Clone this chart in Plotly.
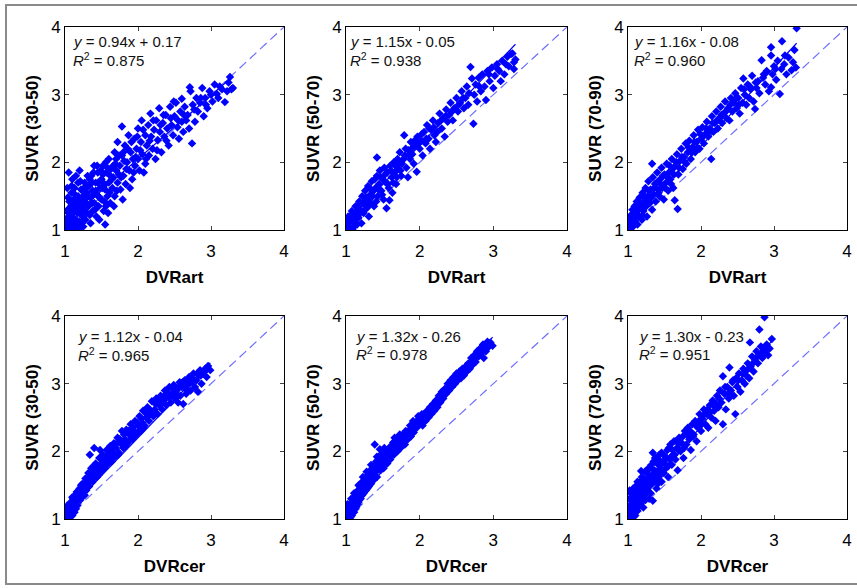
import plotly.graph_objects as go
from plotly.subplots import make_subplots

W, H = 857, 588

# (DVR, SUVR) pairs
art_3050 = [
    (1.00, 1.02), (1.02, 1.10), (1.03, 1.18), (1.05, 1.05), (1.06, 1.25), (1.08, 1.12), (1.08, 1.35),
    (1.10, 1.00), (1.10, 1.20), (1.12, 1.30), (1.12, 1.45), (1.14, 1.08), (1.15, 1.15), (1.15, 1.38),
    (1.17, 1.25), (1.18, 1.50), (1.19, 1.02), (1.20, 1.12), (1.20, 1.32), (1.22, 1.42), (1.22, 1.60),
    (1.24, 1.20), (1.25, 1.05), (1.25, 1.50), (1.26, 1.30), (1.27, 1.70), (1.28, 1.15), (1.29, 1.40),
    (1.30, 1.55), (1.30, 1.25), (1.05, 1.85), (1.10, 1.75), (1.15, 1.80), (1.03, 1.62), (1.20, 1.88),
    (1.32, 1.35), (1.33, 1.65), (1.35, 1.10), (1.35, 1.48), (1.36, 1.80), (1.38, 1.28), (1.38, 1.58),
    (1.40, 1.40), (1.40, 1.95), (1.42, 1.70), (1.43, 1.20), (1.44, 1.52), (1.45, 1.85), (1.46, 1.35),
    (1.48, 1.62), (1.50, 1.75), (1.50, 1.45), (1.52, 1.95), (1.53, 1.28), (1.55, 1.60), (1.55, 1.08),
    (1.56, 1.35), (1.57, 1.85), (1.58, 1.50), (1.60, 1.70), (1.60, 2.05), (1.62, 1.40), (1.63, 1.90),
    (1.65, 1.62), (1.66, 1.78), (1.68, 2.15), (1.68, 1.50), (1.70, 1.88), (1.72, 1.70), (1.72, 2.30),
    (1.78, 2.53), (1.75, 1.95), (1.76, 1.60), (1.78, 2.10), (1.80, 1.80), (1.82, 2.25), (1.83, 1.68),
    (1.85, 2.00), (1.87, 2.40), (1.88, 1.88), (1.90, 2.15), (1.92, 1.75), (1.93, 2.05), (1.95, 2.35),
    (1.96, 1.95), (1.98, 2.20), (2.00, 2.50), (2.00, 2.05), (2.02, 1.88), (2.04, 2.30), (2.05, 2.62),
    (2.06, 2.12), (2.08, 1.85), (2.10, 2.40), (2.10, 1.98), (2.12, 2.25), (2.14, 2.55), (2.15, 2.10),
    (2.17, 2.72), (2.18, 2.38), (2.20, 2.20), (2.22, 2.48), (2.24, 2.05), (2.25, 2.62), (2.27, 2.33),
    (2.29, 2.80), (2.30, 2.45), (2.32, 2.15), (2.34, 2.58), (2.36, 2.38), (2.38, 2.70), (2.40, 2.50),
    (2.42, 2.25), (2.44, 2.82), (2.46, 2.55), (2.48, 2.40), (2.50, 2.68), (2.52, 2.88), (2.54, 2.52),
    (2.56, 2.35), (2.58, 2.75), (2.60, 2.94), (2.60, 2.60), (2.62, 2.45), (2.64, 2.82), (2.66, 2.62),
    (2.68, 2.70), (2.71, 3.11), (2.72, 3.05), (2.74, 2.28), (2.75, 2.85), (2.78, 2.60), (2.80, 2.95),
    (2.82, 2.75), (2.85, 2.88), (2.88, 3.10), (2.90, 2.68), (2.92, 2.95), (2.95, 2.80), (2.98, 3.05),
    (3.02, 2.90), (3.05, 3.15), (3.08, 3.01), (3.10, 2.95), (3.15, 3.08), (3.19, 2.89), (3.22, 3.05),
    (3.26, 3.26), (3.28, 3.08), (3.30, 3.10),
    (1.01, 1.15), (1.04, 1.30), (1.06, 1.42), (1.07, 1.00), (1.09, 1.55), (1.11, 1.10), (1.13, 1.62),
    (1.16, 1.05), (1.18, 1.70), (1.21, 1.25), (1.23, 1.35), (1.26, 1.62), (1.28, 1.48), (1.31, 1.80),
    (1.34, 1.22), (1.37, 1.70), (1.39, 1.52), (1.41, 1.30), (1.44, 1.95), (1.47, 1.15), (1.49, 1.88),
    (1.51, 1.62), (1.54, 1.42), (1.56, 2.00), (1.59, 1.25), (1.61, 1.55), (1.64, 1.75), (1.67, 1.35),
    (1.69, 1.98), (1.71, 1.58), (1.74, 2.10), (1.77, 1.78), (1.79, 1.45), (1.81, 2.02), (1.84, 1.90),
    (1.86, 2.20), (1.89, 1.62), (1.91, 2.30), (1.94, 1.85), (1.97, 2.08), (1.99, 2.38), (2.03, 2.18),
    (2.07, 2.48), (2.11, 2.05), (2.16, 2.32), (2.21, 2.62), (2.26, 2.18), (2.31, 2.55), (2.35, 2.70),
    (2.39, 2.32), (2.45, 2.65), (2.49, 2.90), (2.55, 2.62), (2.63, 2.70), (2.70, 2.50), (2.77, 2.78),
    (2.86, 2.95), (2.93, 2.85), (3.00, 3.00), (3.12, 3.12), (3.24, 3.18),
    (1.02, 1.28), (1.04, 1.48), (1.07, 1.18), (1.09, 1.65), (1.11, 1.38), (1.14, 1.52), (1.16, 1.28),
    (1.19, 1.42), (1.21, 1.72), (1.23, 1.10), (1.24, 1.58), (1.27, 1.45), (1.29, 1.62), (1.32, 1.50),
    (1.34, 1.75), (1.37, 1.40), (1.39, 1.85), (1.42, 1.58), (1.45, 1.70), (1.47, 1.48), (1.52, 1.82),
    (1.54, 1.68), (1.58, 1.92), (1.62, 1.80), (1.66, 1.95), (1.70, 2.05), (1.74, 1.82), (1.80, 2.15),
]

art_5070 = [
    (1.00, 1.02), (1.02, 1.10), (1.03, 1.20), (1.05, 1.05), (1.06, 1.15), (1.08, 1.28), (1.09, 1.00),
    (1.10, 1.12), (1.12, 1.22), (1.13, 1.35), (1.15, 1.08), (1.15, 1.28), (1.17, 1.18), (1.18, 1.42),
    (1.20, 1.30), (1.21, 1.10), (1.22, 1.50), (1.24, 1.25), (1.25, 1.38), (1.26, 1.58), (1.28, 1.32),
    (1.29, 1.45), (1.30, 1.65), (1.31, 1.20), (1.33, 1.52), (1.34, 1.40), (1.35, 1.72), (1.37, 1.58),
    (1.38, 1.35), (1.40, 1.62), (1.42, 2.07), (1.42, 1.80), (1.43, 1.50), (1.45, 1.68), (1.46, 1.88),
    (1.48, 1.58), (1.50, 1.75), (1.51, 1.45), (1.52, 1.92), (1.54, 1.70), (1.55, 1.32), (1.56, 1.85),
    (1.58, 1.62), (1.59, 1.44), (1.60, 1.95), (1.62, 1.78), (1.63, 1.55), (1.65, 2.00), (1.66, 1.85),
    (1.68, 1.68), (1.70, 2.05), (1.71, 1.90), (1.73, 2.15), (1.75, 1.80), (1.76, 1.98), (1.79, 2.40),
    (1.80, 2.10), (1.82, 1.92), (1.84, 1.78), (1.85, 2.18), (1.87, 2.05), (1.88, 2.30), (1.90, 2.12),
    (1.92, 1.98), (1.94, 2.25), (1.96, 1.86), (1.97, 2.38), (2.00, 2.20), (2.02, 2.32), (2.04, 2.10),
    (2.06, 2.45), (2.08, 2.28), (2.10, 2.55), (2.12, 2.35), (2.14, 2.20), (2.16, 2.48), (2.18, 2.62),
    (2.20, 2.40), (2.22, 2.30), (2.25, 2.58), (2.27, 2.72), (2.30, 2.50), (2.32, 2.65), (2.34, 2.38),
    (2.36, 2.78), (2.38, 2.60), (2.40, 2.70), (2.42, 2.88), (2.45, 2.62), (2.47, 2.80), (2.50, 2.95),
    (2.52, 2.75), (2.55, 2.88), (2.57, 3.05), (2.60, 2.80), (2.62, 2.95), (2.64, 3.12), (2.66, 2.85),
    (2.69, 3.41), (2.71, 3.24), (2.73, 2.57), (2.74, 3.00), (2.76, 3.15), (2.78, 2.90), (2.80, 3.25),
    (2.83, 3.05), (2.85, 3.30), (2.88, 3.12), (2.90, 2.92), (2.92, 3.35), (2.95, 3.20), (2.98, 3.40),
    (3.00, 3.10), (3.02, 3.28), (3.05, 3.45), (3.08, 3.35), (3.10, 3.20), (3.12, 3.50), (3.15, 3.30),
    (3.19, 3.56), (3.21, 3.42), (3.24, 3.60), (3.26, 3.61), (3.28, 3.38), (3.30, 3.52), (3.28, 3.48),
    (1.01, 1.06), (1.04, 1.14), (1.07, 1.22), (1.11, 1.05), (1.14, 1.18), (1.16, 1.35), (1.19, 1.25),
    (1.23, 1.40), (1.27, 1.48), (1.30, 1.35), (1.32, 1.62), (1.36, 1.50), (1.39, 1.75), (1.41, 1.42),
    (1.44, 1.60), (1.47, 1.78), (1.49, 1.52), (1.53, 1.82), (1.57, 1.68), (1.61, 1.88), (1.64, 1.70),
    (1.67, 1.95), (1.69, 1.78), (1.72, 2.00), (1.74, 1.88), (1.78, 2.05), (1.81, 2.20), (1.86, 2.12),
    (1.89, 2.20), (1.93, 2.32), (1.99, 2.28), (2.03, 2.42), (2.09, 2.35), (2.13, 2.50), (2.19, 2.52),
    (2.24, 2.45), (2.29, 2.62), (2.35, 2.68), (2.44, 2.75), (2.53, 2.85), (2.59, 2.95), (2.67, 3.02),
    (2.81, 3.12), (2.94, 3.30), (3.06, 3.38), (3.17, 3.45),
]

art_7090 = [
    (1.00, 1.00), (1.01, 1.08), (1.02, 1.15), (1.03, 1.03), (1.04, 1.22), (1.05, 1.10), (1.06, 1.30),
    (1.07, 1.05), (1.08, 1.18), (1.09, 1.35), (1.10, 1.12), (1.11, 1.25), (1.12, 1.42), (1.13, 1.08),
    (1.14, 1.30), (1.15, 1.20), (1.16, 1.48), (1.18, 1.35), (1.19, 1.15), (1.20, 1.55), (1.21, 1.28),
    (1.22, 1.42), (1.24, 1.62), (1.25, 1.35), (1.26, 1.20), (1.27, 1.50), (1.28, 1.72), (1.30, 1.40),
    (1.31, 1.60), (1.33, 1.98), (1.33, 1.30), (1.34, 1.78), (1.35, 1.52), (1.37, 1.68), (1.38, 1.42),
    (1.40, 1.85), (1.41, 1.60), (1.43, 1.50), (1.44, 1.75), (1.46, 1.92), (1.47, 1.62), (1.49, 1.45),
    (1.50, 1.82), (1.52, 1.70), (1.53, 1.98), (1.55, 1.58), (1.56, 1.85), (1.58, 1.75), (1.60, 2.05),
    (1.61, 1.90), (1.62, 1.62), (1.64, 1.44), (1.65, 1.95), (1.67, 2.12), (1.68, 1.31), (1.69, 1.82),
    (1.71, 2.02), (1.73, 2.20), (1.75, 1.90), (1.77, 2.08), (1.79, 2.28), (1.80, 1.98), (1.82, 2.15),
    (1.84, 2.32), (1.86, 2.05), (1.88, 2.22), (1.90, 2.40), (1.92, 2.15), (1.94, 2.30), (1.96, 2.48),
    (1.98, 2.20), (2.00, 2.35), (2.02, 2.52), (2.04, 2.28), (2.06, 2.42), (2.08, 2.60), (2.10, 2.38),
    (2.12, 2.50), (2.14, 2.05), (2.15, 2.68), (2.17, 2.45), (2.19, 2.58), (2.21, 2.75), (2.23, 2.50),
    (2.25, 2.65), (2.27, 2.82), (2.29, 2.58), (2.31, 2.72), (2.33, 2.90), (2.35, 2.65), (2.37, 2.80),
    (2.39, 2.62), (2.41, 2.95), (2.43, 2.75), (2.45, 2.88), (2.47, 3.02), (2.49, 2.80), (2.51, 2.95),
    (2.53, 2.72), (2.55, 3.10), (2.57, 2.88), (2.58, 3.24), (2.60, 3.00), (2.62, 2.85), (2.64, 3.15),
    (2.66, 2.95), (2.68, 3.08), (2.70, 3.28), (2.72, 2.90), (2.74, 2.79), (2.76, 3.10), (2.78, 3.20),
    (2.80, 3.02), (2.83, 3.51), (2.85, 3.25), (2.88, 3.15), (2.90, 3.35), (2.93, 3.05), (2.96, 3.58),
    (2.96, 3.70), (2.96, 3.11), (2.98, 3.30), (3.00, 3.42), (3.03, 3.22), (3.05, 3.50), (3.08, 3.01),
    (3.10, 3.38), (3.11, 3.79), (3.14, 3.45), (3.17, 3.30), (3.20, 3.55), (3.24, 3.36), (3.26, 3.48),
    (3.28, 3.66), (3.30, 3.40), (3.31, 3.98),
    (1.02, 1.05), (1.05, 1.18), (1.08, 1.10), (1.10, 1.28), (1.13, 1.20), (1.17, 1.38), (1.20, 1.22),
    (1.23, 1.48), (1.26, 1.42), (1.29, 1.58), (1.32, 1.48), (1.36, 1.62), (1.39, 1.70), (1.42, 1.55),
    (1.45, 1.68), (1.48, 1.80), (1.51, 1.62), (1.54, 1.78), (1.57, 1.95), (1.59, 1.68), (1.63, 1.82),
    (1.66, 2.00), (1.70, 1.92), (1.74, 2.08), (1.78, 2.00), (1.83, 2.22), (1.87, 2.15), (1.91, 2.30),
    (1.95, 2.22), (1.99, 2.42), (2.03, 2.38), (2.07, 2.50), (2.11, 2.45), (2.16, 2.58), (2.22, 2.62),
    (2.28, 2.70), (2.34, 2.75), (2.40, 2.85), (2.46, 2.92), (2.52, 2.85), (2.59, 3.08), (2.67, 3.12),
    (2.75, 3.18), (2.86, 3.30), (3.02, 3.38), (3.15, 3.58),
]

cer_3050 = [
    (1.00, 1.00), (1.01, 1.08), (1.02, 1.15), (1.03, 1.04), (1.04, 1.12), (1.05, 1.20), (1.06, 1.02),
    (1.07, 1.10), (1.08, 1.25), (1.09, 1.15), (1.10, 1.05), (1.11, 1.30), (1.12, 1.18), (1.13, 1.10),
    (1.14, 1.35), (1.15, 1.25), (1.16, 1.40), (1.17, 1.20), (1.18, 1.32), (1.20, 1.45), (1.21, 1.28),
    (1.22, 1.38), (1.24, 1.52), (1.25, 1.35), (1.26, 1.45), (1.28, 1.60), (1.29, 1.42), (1.30, 1.52),
    (1.32, 1.68), (1.33, 1.48), (1.34, 1.95), (1.35, 1.60), (1.36, 1.75), (1.38, 1.55), (1.40, 1.68),
    (1.40, 2.05), (1.42, 1.82), (1.44, 1.62), (1.45, 1.75), (1.47, 1.90), (1.48, 2.02), (1.49, 1.70),
    (1.50, 1.82), (1.52, 1.95), (1.54, 1.75), (1.55, 1.88), (1.57, 2.02), (1.58, 1.80), (1.60, 1.92),
    (1.62, 2.08), (1.64, 1.85), (1.65, 1.98), (1.67, 2.12), (1.69, 1.92), (1.70, 2.05), (1.72, 2.20),
    (1.74, 1.98), (1.76, 2.12), (1.78, 2.30), (1.80, 2.05), (1.82, 2.18), (1.84, 2.32), (1.86, 2.12),
    (1.88, 2.25), (1.90, 2.40), (1.92, 2.18), (1.94, 2.30), (1.96, 2.45), (1.98, 2.25), (2.00, 2.38),
    (2.02, 2.52), (2.04, 2.30), (2.06, 2.42), (2.07, 2.60), (2.09, 2.38), (2.11, 2.50), (2.13, 2.65),
    (2.15, 2.45), (2.17, 2.55), (2.19, 2.74), (2.21, 2.52), (2.23, 2.62), (2.25, 2.78), (2.27, 2.55),
    (2.29, 2.68), (2.31, 2.82), (2.33, 2.62), (2.35, 2.75), (2.37, 2.90), (2.39, 2.68), (2.41, 2.80),
    (2.43, 2.95), (2.45, 2.72), (2.47, 2.85), (2.49, 2.98), (2.51, 2.78), (2.53, 2.90), (2.55, 2.72),
    (2.57, 3.02), (2.58, 2.82), (2.60, 2.95), (2.62, 2.70), (2.64, 3.05), (2.66, 2.85), (2.68, 2.98),
    (2.70, 3.10), (2.72, 2.90), (2.74, 3.02), (2.76, 3.15), (2.78, 2.95), (2.80, 3.05), (2.82, 2.88),
    (2.83, 3.12), (2.85, 3.20), (2.87, 3.00), (2.89, 3.15), (2.92, 3.22), (2.94, 3.10), (2.96, 3.26),
    (2.99, 3.20),
    (1.01, 1.12), (1.03, 1.20), (1.05, 1.08), (1.08, 1.18), (1.10, 1.32), (1.12, 1.25), (1.15, 1.15),
    (1.17, 1.40), (1.19, 1.28), (1.22, 1.50), (1.24, 1.40), (1.27, 1.35), (1.28, 1.52), (1.31, 1.60),
    (1.34, 1.55), (1.37, 1.68), (1.39, 1.78), (1.41, 1.62), (1.43, 1.72), (1.46, 1.65), (1.48, 1.80),
    (1.51, 1.72), (1.53, 1.88), (1.56, 1.82), (1.59, 1.95), (1.61, 1.85), (1.63, 2.00), (1.66, 1.92),
    (1.68, 2.05), (1.71, 2.12), (1.73, 1.95), (1.75, 2.18), (1.79, 2.12), (1.81, 2.25), (1.83, 2.08),
    (1.87, 2.30), (1.89, 2.18), (1.93, 2.35), (1.95, 2.22), (1.99, 2.42), (2.01, 2.30), (2.05, 2.48),
    (2.08, 2.35), (2.12, 2.55), (2.16, 2.62), (2.20, 2.58), (2.24, 2.70), (2.28, 2.75), (2.32, 2.70),
    (2.36, 2.82), (2.40, 2.88), (2.44, 2.80), (2.48, 2.92), (2.52, 2.85), (2.56, 2.95), (2.61, 3.02),
    (2.65, 2.92), (2.69, 3.05), (2.73, 3.08), (2.77, 3.05), (2.81, 3.15), (2.86, 3.12), (2.91, 3.18),
    (2.95, 3.22),
]

cer_5070 = [
    (1.00, 1.00), (1.01, 1.08), (1.02, 1.04), (1.03, 1.15), (1.04, 1.08), (1.05, 1.20), (1.06, 1.02),
    (1.07, 1.12), (1.08, 1.25), (1.09, 1.15), (1.10, 1.30), (1.11, 1.10), (1.12, 1.22), (1.13, 1.35),
    (1.14, 1.18), (1.15, 1.28), (1.16, 1.42), (1.17, 1.25), (1.18, 1.35), (1.19, 1.48), (1.20, 1.30),
    (1.21, 1.40), (1.22, 1.55), (1.24, 1.38), (1.25, 1.48), (1.26, 1.60), (1.27, 1.42), (1.28, 1.55),
    (1.30, 1.65), (1.31, 1.48), (1.32, 1.60), (1.33, 1.72), (1.34, 1.52), (1.35, 1.65), (1.37, 1.78),
    (1.38, 1.58), (1.39, 2.10), (1.40, 1.70), (1.41, 1.85), (1.42, 1.62), (1.44, 1.78), (1.45, 1.90),
    (1.46, 2.03), (1.47, 1.72), (1.48, 1.85), (1.50, 1.95), (1.51, 1.75), (1.53, 1.88), (1.54, 2.02),
    (1.56, 1.82), (1.57, 1.95), (1.59, 2.05), (1.60, 1.88), (1.62, 2.00), (1.64, 2.13), (1.65, 1.95),
    (1.67, 2.08), (1.69, 2.18), (1.70, 2.00), (1.72, 2.12), (1.74, 2.05), (1.76, 2.20), (1.78, 2.15),
    (1.80, 2.10), (1.82, 2.25), (1.84, 2.18), (1.86, 2.32), (1.88, 2.22), (1.90, 2.38), (1.92, 2.28),
    (1.94, 2.42), (1.96, 2.35), (1.98, 2.52), (2.00, 2.40), (2.02, 2.48), (2.04, 2.38), (2.06, 2.55),
    (2.08, 2.45), (2.10, 2.60), (2.12, 2.50), (2.14, 2.65), (2.16, 2.55), (2.18, 2.70), (2.20, 2.60),
    (2.22, 2.75), (2.24, 2.65), (2.26, 2.82), (2.28, 2.72), (2.30, 2.88), (2.32, 2.78), (2.34, 2.92),
    (2.36, 2.85), (2.38, 3.00), (2.40, 2.90), (2.42, 3.05), (2.44, 2.95), (2.46, 3.10), (2.48, 3.00),
    (2.50, 3.15), (2.52, 3.05), (2.54, 3.18), (2.56, 3.08), (2.58, 3.22), (2.60, 3.12), (2.62, 3.25),
    (2.64, 3.18), (2.66, 3.30), (2.68, 3.22), (2.70, 3.38), (2.72, 3.28), (2.74, 3.42), (2.76, 3.32),
    (2.78, 3.48), (2.80, 3.40), (2.82, 3.52), (2.84, 3.45), (2.87, 3.38), (2.88, 3.55), (2.90, 3.48),
    (2.92, 3.62), (2.94, 3.55), (2.96, 3.61), (2.99, 3.56),
    (1.01, 1.15), (1.02, 1.22), (1.04, 1.00), (1.05, 1.12), (1.07, 1.30), (1.08, 1.05), (1.10, 1.20),
    (1.11, 1.38), (1.13, 1.15), (1.14, 1.28), (1.16, 1.22), (1.17, 1.50), (1.19, 1.32), (1.20, 1.45),
    (1.22, 1.35), (1.23, 1.62), (1.25, 1.42), (1.26, 1.52), (1.28, 1.70), (1.29, 1.45), (1.31, 1.58),
    (1.33, 1.55), (1.34, 1.80), (1.36, 1.62), (1.38, 1.72), (1.40, 1.62), (1.42, 1.92), (1.43, 1.72),
    (1.45, 1.82), (1.47, 1.95), (1.49, 1.80), (1.51, 1.92), (1.52, 2.05), (1.55, 1.85), (1.57, 2.00),
    (1.58, 1.90), (1.61, 2.08), (1.63, 1.95), (1.66, 2.02), (1.66, 2.20), (1.68, 2.15), (1.71, 2.05),
    (1.73, 2.25), (1.75, 2.12), (1.77, 2.25), (1.79, 2.18), (1.81, 2.30), (1.83, 2.20), (1.85, 2.28),
    (1.87, 2.38), (1.89, 2.30), (1.91, 2.45), (1.93, 2.35), (1.97, 2.40), (1.99, 2.48), (2.03, 2.55),
    (2.07, 2.50), (2.11, 2.55), (2.15, 2.62), (2.19, 2.65), (2.23, 2.72), (2.27, 2.78), (2.31, 2.85),
    (2.35, 2.90), (2.39, 2.95), (2.43, 3.00), (2.47, 3.05), (2.51, 3.10), (2.55, 3.15), (2.59, 3.18),
    (2.63, 3.22), (2.67, 3.25), (2.71, 3.32), (2.75, 3.38), (2.79, 3.42), (2.83, 3.50), (2.86, 3.58),
    (2.91, 3.52), (2.95, 3.58),
]

cer_7090 = [
    (1.00, 1.00), (1.01, 1.10), (1.02, 1.20), (1.02, 1.42), (1.03, 1.05), (1.04, 1.30), (1.05, 1.15),
    (1.06, 1.38), (1.07, 1.08), (1.08, 1.25), (1.09, 1.40), (1.10, 1.18), (1.11, 1.32), (1.12, 1.50),
    (1.13, 1.12), (1.14, 1.28), (1.15, 1.45), (1.16, 1.35), (1.17, 1.55), (1.18, 1.71), (1.19, 1.25),
    (1.20, 1.42), (1.21, 1.17), (1.22, 1.60), (1.23, 1.35), (1.24, 1.50), (1.26, 1.68), (1.27, 1.42),
    (1.28, 1.58), (1.29, 1.30), (1.30, 1.75), (1.31, 1.50), (1.33, 1.65), (1.34, 1.98), (1.34, 1.27),
    (1.35, 1.85), (1.36, 1.55), (1.38, 1.70), (1.39, 1.45), (1.40, 1.82), (1.42, 1.62), (1.43, 1.95),
    (1.44, 1.75), (1.46, 1.98), (1.46, 1.55), (1.48, 1.85), (1.49, 1.68), (1.51, 1.92), (1.52, 1.75),
    (1.54, 2.02), (1.55, 1.62), (1.57, 1.88), (1.58, 2.10), (1.60, 1.80), (1.62, 1.95), (1.63, 2.15),
    (1.65, 1.88), (1.67, 2.05), (1.68, 1.72), (1.70, 2.20), (1.72, 2.00), (1.74, 2.12), (1.76, 1.90),
    (1.78, 2.30), (1.80, 2.10), (1.82, 2.35), (1.84, 2.18), (1.86, 2.02), (1.88, 2.40), (1.90, 2.25),
    (1.92, 2.45), (1.94, 2.15), (1.96, 2.35), (1.98, 2.55), (2.00, 2.30), (2.02, 2.48), (2.04, 2.62),
    (2.06, 2.40), (2.08, 2.55), (2.10, 2.35), (2.12, 2.68), (2.14, 2.50), (2.16, 2.75), (2.18, 2.60),
    (2.20, 2.45), (2.22, 2.82), (2.24, 2.65), (2.26, 2.90), (2.28, 2.72), (2.30, 3.11), (2.30, 2.40),
    (2.32, 2.85), (2.34, 2.62), (2.36, 2.95), (2.38, 2.78), (2.39, 3.24), (2.41, 2.90), (2.43, 3.02),
    (2.45, 2.82), (2.47, 2.55), (2.48, 3.08), (2.50, 2.95), (2.52, 3.15), (2.54, 2.88), (2.56, 3.05),
    (2.58, 3.22), (2.60, 3.00), (2.62, 3.12), (2.64, 3.30), (2.66, 3.08), (2.67, 3.61), (2.68, 3.25),
    (2.70, 3.40), (2.72, 3.18), (2.74, 3.35), (2.76, 3.48), (2.78, 3.30), (2.80, 3.80), (2.80, 3.42),
    (2.82, 3.55), (2.84, 3.38), (2.86, 3.50), (2.87, 3.98), (2.88, 3.45), (2.90, 3.58), (2.92, 3.42),
    (2.94, 3.52), (2.97, 3.66),
    (1.01, 1.05), (1.02, 1.30), (1.03, 1.15), (1.04, 1.38), (1.05, 1.02), (1.06, 1.22), (1.07, 1.45),
    (1.08, 1.12), (1.09, 1.32), (1.10, 1.05), (1.11, 1.42), (1.12, 1.22), (1.13, 1.55), (1.14, 1.38),
    (1.15, 1.18), (1.16, 1.50), (1.17, 1.30), (1.18, 1.40), (1.19, 1.62), (1.20, 1.28), (1.21, 1.52),
    (1.22, 1.38), (1.23, 1.70), (1.24, 1.28), (1.25, 1.58), (1.26, 1.45), (1.28, 1.75), (1.29, 1.50),
    (1.30, 1.62), (1.31, 1.38), (1.32, 1.80), (1.33, 1.55), (1.36, 1.72), (1.37, 1.90), (1.38, 1.60),
    (1.40, 1.70), (1.41, 1.52), (1.42, 1.88), (1.44, 1.65), (1.45, 1.82), (1.47, 1.72), (1.49, 1.95),
    (1.50, 1.82), (1.53, 1.90), (1.55, 1.78), (1.56, 2.05), (1.59, 1.92), (1.61, 2.02), (1.64, 1.95),
    (1.66, 2.15), (1.69, 2.02), (1.71, 2.12), (1.75, 2.22), (1.77, 2.05), (1.81, 2.25), (1.85, 2.30),
    (1.89, 2.22), (1.93, 2.38), (1.97, 2.45), (2.01, 2.40), (2.05, 2.55), (2.09, 2.62), (2.13, 2.58),
    (2.17, 2.68), (2.21, 2.70), (2.25, 2.78), (2.33, 2.95), (2.37, 2.85), (2.44, 3.05), (2.51, 3.05),
    (2.57, 3.15), (2.63, 3.20), (2.71, 3.30), (2.77, 3.40), (2.83, 3.45), (2.89, 3.50),
]

# fit coefficients and R^2 as printed in each panel
slopes = [0.94, 1.15, 1.16, 1.12, 1.32, 1.30]
intercepts = [0.17, -0.05, -0.08, -0.04, -0.26, -0.23]
r2_labels = ["0.875", "0.938", "0.960", "0.965", "0.978", "0.951"]
x_titles = ["DVRart", "DVRart", "DVRart", "DVRcer", "DVRcer", "DVRcer"]
y_titles = ["SUVR (30-50)", "SUVR (50-70)", "SUVR (70-90)",
            "SUVR (30-50)", "SUVR (50-70)", "SUVR (70-90)"]
axis_ticks = [1, 2, 3, 4]

datasets = [art_3050, art_5070, art_7090, cer_3050, cer_5070, cer_7090]

# pixel boxes of the plot areas
col_px = [(65, 284), (346, 567), (628, 847)]
row_px = [(27, 230), (316, 519)]
# text inset (left px, first line px below top, second line px below top)
text_inset = [(6, 14, 32), (2, 14, 32), (4, 14, 32),
              (11, 20, 38), (8, 20, 37), (9, 20, 37)]

BLUE = "#0000ff"
FONT = "Arial, Liberation Sans, sans-serif"

fig = make_subplots(rows=2, cols=3)

for i, pts in enumerate(datasets):
    r, c = i // 3 + 1, i % 3 + 1
    xs = [p[0] for p in pts]
    ys = [p[1] for p in pts]

    # identity line (dashed)
    fig.add_trace(go.Scatter(
        x=[axis_ticks[0], axis_ticks[-1]], y=[axis_ticks[0], axis_ticks[-1]],
        mode="lines", line=dict(color="#6f6fff", width=1.2, dash="9px,5px"),
        hoverinfo="skip"), row=r, col=c)

    fig.add_trace(go.Scatter(
        x=xs, y=ys, mode="markers",
        marker=dict(symbol="diamond", size=6.5, color=BLUE, line=dict(width=0))),
        row=r, col=c)

    # regression line across the data range
    fx = [min(xs), max(xs)]
    fig.add_trace(go.Scatter(
        x=fx, y=[slopes[i] * v + intercepts[i] for v in fx],
        mode="lines", line=dict(color=BLUE, width=1.2), hoverinfo="skip"),
        row=r, col=c)

    x0, x1 = col_px[c - 1]
    y0, y1 = row_px[r - 1]
    sfx = "" if i == 0 else str(i + 1)
    fig.layout["xaxis" + sfx].domain = [x0 / W, x1 / W]
    fig.layout["yaxis" + sfx].domain = [1 - y1 / H, 1 - y0 / H]

    fig.update_xaxes(title_text="<b>%s</b>" % x_titles[i], row=r, col=c)
    fig.update_yaxes(title_text="<b>%s</b>" % y_titles[i], row=r, col=c)

    sign = "+" if intercepts[i] >= 0 else "-"
    eq = "<i>y</i> = %.2fx %s %.2f" % (slopes[i], sign, abs(intercepts[i]))
    dx, l1, l2 = text_inset[i]
    for txt, off in [(eq, l1), ("<i>R</i><sup>2</sup> = " + r2_labels[i], l2)]:
        fig.add_annotation(
            text=txt, xref="x%s domain" % sfx, yref="y%s domain" % sfx,
            x=0, y=1, xanchor="left", yanchor="middle",
            xshift=dx, yshift=-off, showarrow=False,
            font=dict(family=FONT, size=15, color="#111111"))

fig.update_xaxes(
    range=[1, 4], tickvals=axis_ticks, ticks="inside", ticklen=4,
    showline=True, linecolor="black", linewidth=1, mirror="ticks",
    showgrid=False, zeroline=False, automargin=False, ticklabelstandoff=6,
    tickfont=dict(family=FONT, size=17, color="black"),
    title_font=dict(family=FONT, size=17, color="black"), title_standoff=10)
fig.update_yaxes(
    range=[1, 4], tickvals=axis_ticks, ticks="inside", ticklen=4,
    showline=True, linecolor="black", linewidth=1, mirror="ticks",
    showgrid=False, zeroline=False, automargin=False,
    tickfont=dict(family=FONT, size=17, color="black"),
    title_font=dict(family=FONT, size=17, color="black"), title_standoff=8)

# grey frame round the figure
fig.add_shape(type="rect", xref="paper", yref="paper",
              x0=6 / W, x1=1.02, y0=1 - 584 / H, y1=1 - 5 / H,
              line=dict(color="#8a8a8a", width=2))

fig.update_layout(
    width=W, height=H, margin=dict(l=0, r=0, t=0, b=0),
    showlegend=False, plot_bgcolor="white", paper_bgcolor="white",
    font=dict(family=FONT))

# drop the page's default body margin so the figure sits at the window corner
fig.write_html("out.html", config={"displayModeBar": False},
               post_script="document.body.style.margin='0';document.body.style.overflow='hidden';")
